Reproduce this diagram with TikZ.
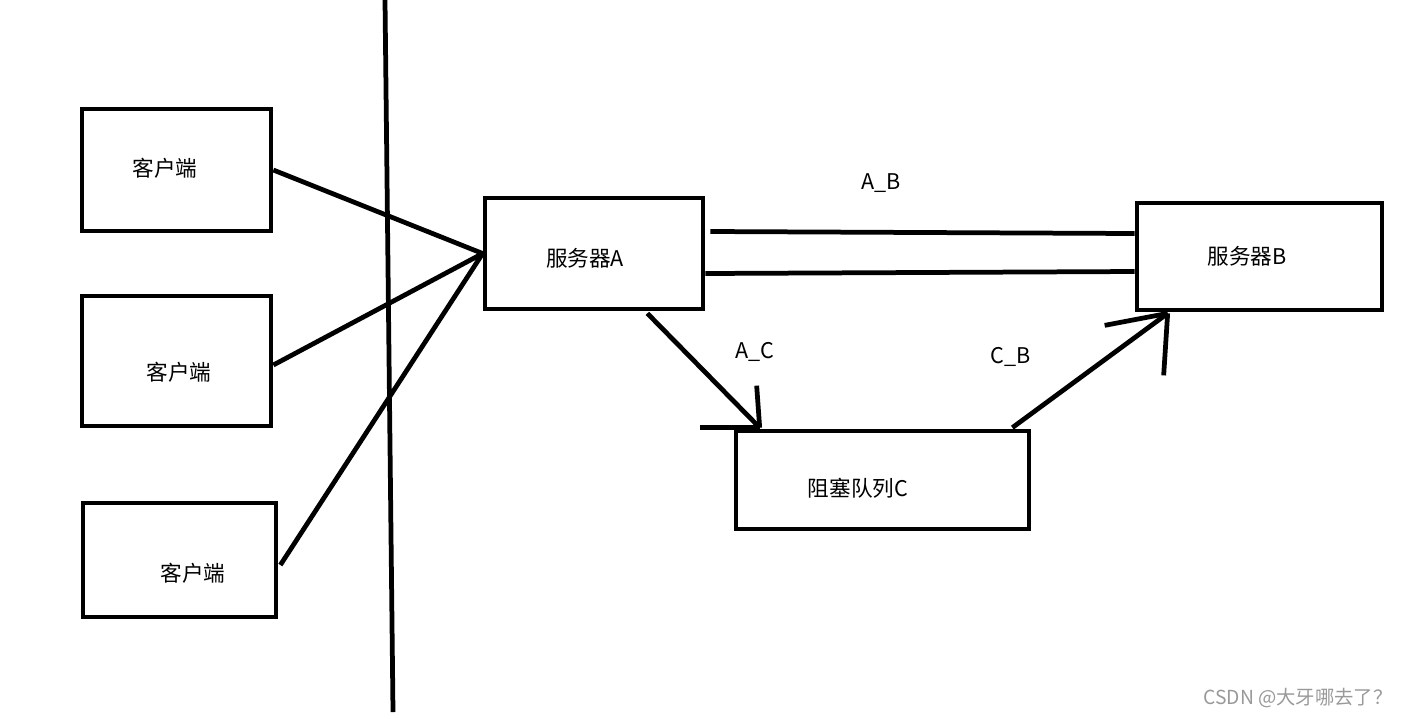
\documentclass[tikz,border=0pt]{standalone}
\usepackage{fontspec}
\setmainfont{Noto Sans CJK SC}
\usepackage{tikz}
\usetikzlibrary{calc}

\begin{document}
\begin{tikzpicture}[x=0.02cm, y=-0.02cm,
    box/.style={draw, line width=0.095cm, minimum width=#1},
    lbl/.style={font=\fontsize{12.3}{14}\selectfont},
    wire/.style={line width=0.095cm}]
  \useasboundingbox (0,0) rectangle (1405,718);

  % border between clients and servers
  \draw[wire] (385,0) -- (393,712);

  % clients
  \node[box=3.78cm, minimum height=2.44cm] (client1) at (176.5,170) {};
  \node[lbl] at (165,168) {客户端};
  \node[box=3.78cm, minimum height=2.6cm] (client2) at (176.5,361) {};
  \node[lbl] at (179,372) {客户端};
  \node[box=3.86cm, minimum height=2.28cm] (client3) at (179.5,560) {};
  \node[lbl] at (193,573) {客户端};

  % servers and queue
  \node[box=4.36cm, minimum height=2.22cm] (serverA) at (594,253.5) {};
  \node[lbl] at (585,258) {服务器A};
  \node[box=4.9cm, minimum height=2.14cm] (serverB) at (1259.5,256.5) {};
  \node[lbl] at (1247,256) {服务器B};
  \node[box=5.86cm, minimum height=1.96cm] (queueC) at (882.5,480) {};
  \node[lbl] at (858,488) {阻塞队列C};

  % clients to server A
  \draw[wire] (client1.east) -- (serverA.west);
  \draw[wire] ($(client2.east)+(0,4)$) -- (serverA.west);
  \draw[wire] ($(client3.east)+(2,5)$) -- (serverA.west);

  % A_B link
  \draw[wire] ($(serverA.east)+(5,-22)$) -- ($(serverB.west)+(0,-23)$);
  \draw[wire] ($(serverA.east)+(0,20)$) -- ($(serverB.west)+(0,15)$);
  \node[lbl] (labAB) at (881,183) {A\_B};

  % A_C link, hand drawn head
  \coordinate (tipC) at ($(queueC.north west)+(26,-1)$);
  \draw[wire] ($(serverA.south east)+(-58,2)$) -- (tipC);
  \draw[wire] (tipC) -- ++(-3,-42);
  \draw[wire] (tipC) -- ++(-60,0);
  \node[lbl] (labAC) at (755,352) {A\_C};

  % C_B link, hand drawn head
  \coordinate (tipB) at ($(serverB.south west)+(33,1)$);
  \draw[wire] ($(queueC.north east)+(-19,-1)$) -- (tipB);
  \draw[wire] (tipB) -- ++(-63,12);
  \draw[wire] (tipB) -- ++(-4,62);
  \node[lbl] (labCB) at (1011,357) {C\_B};

  % watermark
  \node[font=\fontsize{11}{13}\selectfont, text=black!40] (mark) at (1298,698) {CSDN @大牙哪去了？};
\end{tikzpicture}
\end{document}
